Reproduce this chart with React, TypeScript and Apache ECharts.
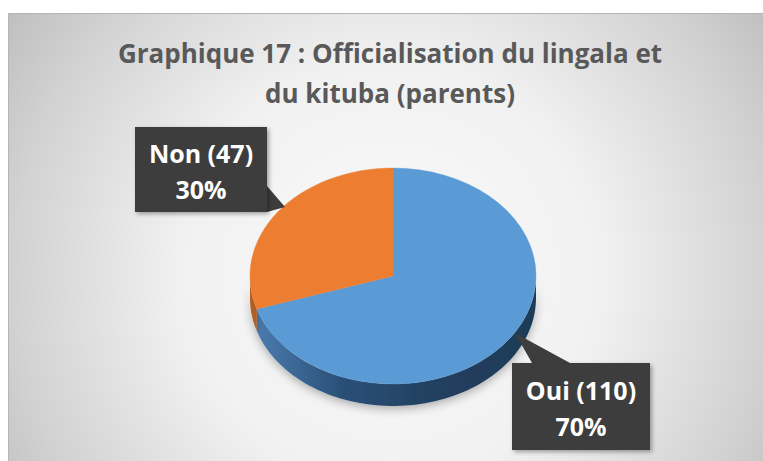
import React, { useEffect, useRef } from "react";
import * as echarts from "echarts";

const categories = ["Oui", "Non"];
const counts = [110, 47];
const percents = [70, 30];
const topColors = ["#5b9bd5", "#ed7d31"];
const titleLines = ["Graphique 17 : Officialisation du lingala et", "du kituba (parents)"];

const W = 755;
const H = 448;
const CX = 385;
const CY = 263;
const RX = 143;
const RY = 108;
const DEPTH = 22;
const FONT = "'Open Sans', 'Noto Sans', sans-serif";

const total = counts.reduce((a, b) => a + b, 0);
const angleRange = (i: number) => {
  let cum = 0;
  for (let k = 0; k < i; k++) cum += counts[k];
  const a0 = -Math.PI / 2 + (2 * Math.PI * cum) / total;
  const a1 = a0 + (2 * Math.PI * counts[i]) / total;
  return [a0, a1];
};

const sideColors = [
  new echarts.graphic.LinearGradient(0, 0, 1, 0, [
    { offset: 0, color: "#4a7bad" },
    { offset: 0.3, color: "#2b5078" },
    { offset: 0.65, color: "#213f5e" },
    { offset: 1, color: "#1f3b58" },
  ]),
  "#b25d22",
];

function sideItem(params: any, api: any) {
  const i = params.dataIndex;
  const [a0, a1] = angleRange(i);
  const lo = Math.max(a0, 0);
  const hi = Math.min(a1, Math.PI);
  if (hi <= lo) return { type: "group", children: [] };
  const pts: number[][] = [];
  const n = 80;
  for (let k = 0; k <= n; k++) {
    const t = lo + ((hi - lo) * k) / n;
    pts.push([CX + RX * Math.cos(t), CY + RY * Math.sin(t)]);
  }
  for (let k = n; k >= 0; k--) {
    const t = lo + ((hi - lo) * k) / n;
    pts.push([CX + RX * Math.cos(t), CY + RY * Math.sin(t) + DEPTH]);
  }
  return {
    type: "polygon",
    shape: { points: pts },
    style: {
      fill: sideColors[i],
      shadowBlur: 10,
      shadowOffsetY: 3,
      shadowColor: "rgba(0,0,0,0.3)",
    },
  };
}

function topItem(params: any, api: any) {
  const i = params.dataIndex;
  const [a0, a1] = angleRange(i);
  return {
    type: "sector",
    x: CX,
    y: CY,
    scaleY: RY / RX,
    shape: { cx: 0, cy: 0, r: RX, r0: 0, startAngle: a0, endAngle: a1, clockwise: true },
    style: { fill: topColors[i], stroke: topColors[i], lineWidth: 0.5 },
  };
}

// callout boxes (layout only)
const boxes = [
  { x: 504, y: 350, w: 138, h: 87, wedge: [[524, 350], [562, 350], [507, 320]] },
  { x: 127, y: 114, w: 132, h: 85, wedge: [[259, 173], [259, 199], [277, 194]] },
];

export default function App() {
  const ref = useRef<HTMLDivElement>(null);
  useEffect(() => {
    if (!ref.current) return;
    const chart = echarts.init(ref.current, null, { renderer: "svg" });
    const labelGraphics: any[] = [];
    categories.forEach((c, i) => {
      const b = boxes[i];
      labelGraphics.push({
        type: "polygon",
        z: 20,
        shape: { points: b.wedge },
        style: { fill: "#3d3d3d" },
      });
      labelGraphics.push({
        type: "rect",
        z: 21,
        shape: { x: b.x, y: b.y, width: b.w, height: b.h },
        style: {
          fill: "#3d3d3d",
          shadowBlur: 4,
          shadowOffsetX: 2,
          shadowOffsetY: 2,
          shadowColor: "rgba(0,0,0,0.35)",
        },
      });
      labelGraphics.push({
        type: "text",
        z: 22,
        x: b.x + b.w / 2,
        y: b.y + b.h / 2 + 1,
        style: {
          text: `${c} (${counts[i]})\n${percents[i]}%`,
          fill: "#ffffff",
          font: `bold 25px ${FONT}`,
          lineHeight: 36,
          textAlign: "center",
          textVerticalAlign: "middle",
        },
      });
    });
    chart.setOption({
      animation: false,
      graphic: [
        {
          type: "rect",
          z: -10,
          shape: { x: 0, y: 0, width: W, height: H },
          style: {
            fill: new echarts.graphic.RadialGradient(
              382,
              260,
              470,
              [
                { offset: 0, color: "#fafafa" },
                { offset: 0.45, color: "#f1f1f1" },
                { offset: 0.8, color: "#d2d2d2" },
                { offset: 1, color: "#bdbdbd" },
              ],
              true
            ),
          },
        },
        {
          type: "polyline",
          z: -9,
          shape: { points: [[0.5, H], [0.5, 0.5], [W, 0.5]] },
          style: { stroke: "#b5b5b5", lineWidth: 1, fill: null },
        },
        {
          type: "text",
          z: 5,
          x: 382,
          y: 20,
          style: {
            text: titleLines.join("\n"),
            fill: "#595959",
            font: `bold 26px ${FONT}`,
            lineHeight: 40,
            textAlign: "center",
            textVerticalAlign: "top",
          },
        },
        ...labelGraphics,
      ],
      series: [
        {
          type: "custom",
          coordinateSystem: "none",
          z: 1,
          data: counts.map((v, i) => ({ name: categories[i], value: [v] })),
          renderItem: sideItem,
        },
        {
          type: "custom",
          coordinateSystem: "none",
          z: 2,
          data: counts.map((v, i) => ({ name: categories[i], value: [v] })),
          renderItem: topItem,
        },
      ],
    });
    return () => chart.dispose();
  }, []);
  return (
    <div
      ref={ref}
      style={{ position: "absolute", left: 8, top: 13, width: W, height: H }}
    />
  );
}
